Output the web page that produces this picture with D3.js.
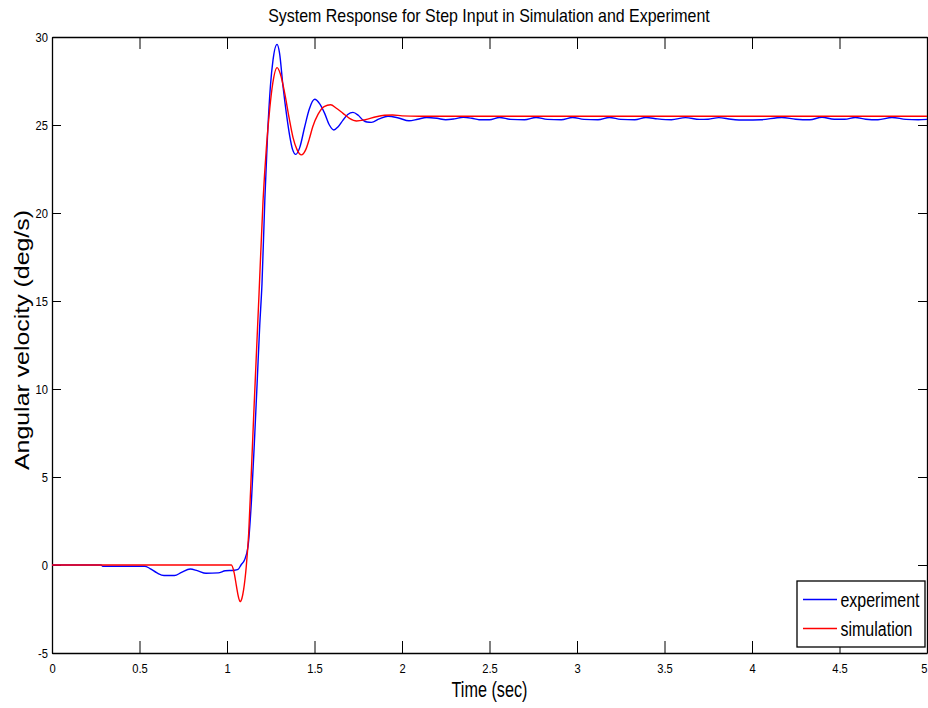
<!DOCTYPE html>
<html>
<head>
<meta charset="utf-8">
<script src="https://cdn.jsdelivr.net/npm/d3@7"></script>
<style>
  html, body { margin: 0; padding: 0; background: #fff; }
  svg { display: block; font-family: "Liberation Sans", Arial, sans-serif; }
</style>
</head>
<body>
<svg id="chart" width="928" height="708"></svg>
<script>
// Step response: simulated model vs. measured rig data
const simTime = [0, 1.0, 1.025, 1.04, 1.054, 1.065, 1.075, 1.085, 1.095, 1.11, 1.124, 1.14, 1.153, 1.168, 1.183, 1.206,
  1.225, 1.244, 1.262, 1.286, 1.305, 1.33, 1.355, 1.377, 1.40, 1.425, 1.45, 1.47, 1.49, 1.52, 1.555, 1.592, 1.625,
  1.663, 1.70, 1.74, 1.79, 1.853, 1.90, 1.946, 2.0, 2.1, 5.0];
const simValue = [0, 0, 0, -0.4, -1.2, -1.8, -2.08, -1.9, -1.4, -0.1, 1.8, 5.5, 8.6, 12.0, 15.4, 20.7,
  23.7, 25.9, 27.4, 28.26, 27.9, 26.8, 25.4, 24.3, 23.6, 23.3, 23.6, 24.2, 24.9, 25.6, 26.05, 26.15, 25.95,
  25.66, 25.38, 25.23, 25.3, 25.47, 25.55, 25.57, 25.52, 25.5, 25.5];

const expTime = [0, 0.28, 0.29, 0.53, 0.56, 0.60, 0.64, 0.70, 0.74, 0.79, 0.83, 0.88, 0.95, 0.99, 1.04, 1.063,
  1.08, 1.10, 1.12, 1.14, 1.159, 1.172, 1.187, 1.20, 1.216, 1.232, 1.248, 1.263, 1.286, 1.30, 1.32, 1.34, 1.358,
  1.375, 1.393, 1.415, 1.444, 1.47, 1.501, 1.53, 1.558, 1.585, 1.611, 1.635, 1.663, 1.69, 1.72, 1.75, 1.777,
  1.80, 1.825, 1.87, 1.92, 1.98, 2.04, 2.09, 2.14, 2.20, 2.25, 2.30, 2.35, 2.40, 2.44, 2.50, 2.557, 2.62,
  2.70, 2.766, 2.83, 2.91, 2.975, 3.04, 3.12, 3.185, 3.25, 3.33, 3.394, 3.46, 3.54, 3.62, 3.70, 3.75, 3.81,
  3.88, 3.96, 4.05, 4.17, 4.25, 4.33, 4.40, 4.47, 4.53, 4.59, 4.65, 4.72, 4.80, 4.88, 4.95, 5.0];
const expValue = [0, 0, -0.07, -0.07, -0.2, -0.45, -0.6, -0.6, -0.42, -0.23, -0.32, -0.47, -0.45, -0.33, -0.3, -0.25,
  0.0, 0.28, 1.04, 3.7, 7.5, 10.3, 13.6, 16.0, 20.7, 24.5, 27.2, 28.7, 29.58, 29.1, 27.2, 25.6, 24.4,
  23.6, 23.33, 23.7, 24.9, 25.9, 26.46, 26.2, 25.66, 25.0, 24.72, 24.9, 25.28, 25.6, 25.72, 25.55, 25.28,
  25.17, 25.15, 25.35, 25.5, 25.4, 25.24, 25.33, 25.43, 25.38, 25.3, 25.35, 25.44, 25.38, 25.30, 25.30, 25.43, 25.32,
  25.30, 25.43, 25.32, 25.30, 25.43, 25.32, 25.30, 25.43, 25.32, 25.30, 25.43, 25.35, 25.30, 25.42, 25.32, 25.33, 25.42,
  25.33, 25.28, 25.30, 25.43, 25.33, 25.30, 25.44, 25.33, 25.33, 25.43, 25.33, 25.30, 25.43, 25.32, 25.30, 25.32];

const xTicks = [0, 0.5, 1, 1.5, 2, 2.5, 3, 3.5, 4, 4.5, 5];
const yTicks = [-5, 0, 5, 10, 15, 20, 25, 30];
const seriesNames = ["experiment", "simulation"];
const seriesColors = ["#0000ff", "#ff0000"];

const titleText = "System Response for Step Input in Simulation and Experiment";
const xLabel = "Time (sec)";
const yLabel = "Angular velocity (deg/s)";

const svg = d3.select("#chart");
const plotLeft = 52, plotRight = 927, plotTop = 37, plotBottom = 653;

const x = d3.scaleLinear().domain([0, 5]).range([plotLeft, plotRight]);
const y = d3.scaleLinear().domain([-5, 30]).range([plotBottom, plotTop]);

// horizontal lettering is condensed: scale each text along x about its own anchor
function squeeze(node, ratio) {
  const ax = +(node.getAttribute("x") || 0);
  const prev = node.getAttribute("transform") || "";
  node.setAttribute("transform", `${prev} translate(${ax},0) scale(${ratio},1) translate(${-ax},0)`);
}
function condense(sel, ratio) {
  sel.each(function () { squeeze(this, ratio); });
}
function fitWidth(sel, width) {
  sel.each(function () {
    const w = this.getComputedTextLength();
    if (w > 0) squeeze(this, width / w);
  });
}

const tickFmt = d => String(d);
const tickFont = 13;

// axes: ticks point inward on all four sides (box style)
const axisBottom = d3.axisBottom(x).tickValues(xTicks).tickFormat(tickFmt).tickSizeInner(-12).tickSizeOuter(0).tickPadding(11);
const axisTop = d3.axisTop(x).tickValues(xTicks).tickFormat("").tickSizeInner(-12).tickSizeOuter(0);
const axisLeft = d3.axisLeft(y).tickValues(yTicks).tickFormat(tickFmt).tickSizeInner(-9).tickSizeOuter(0).tickPadding(4);
const axisRight = d3.axisRight(y).tickValues(yTicks).tickFormat("").tickSizeInner(-9).tickSizeOuter(0);

function styleAxis(g) {
  g.attr("font-family", null).attr("font-size", null);
  g.selectAll(".domain").attr("stroke", "#000").attr("stroke-width", 1.3);
  g.selectAll(".tick line").attr("stroke", "#000").attr("stroke-width", 1);
  g.selectAll("text").attr("font-size", tickFont).attr("fill", "#000").call(condense, 0.86);
}

const gx = svg.append("g").attr("transform", `translate(0,${plotBottom})`).call(axisBottom).call(styleAxis);
// the last label sits on the window edge: keep it inside
gx.selectAll(".tick text").filter(d => d === 5).attr("text-anchor", "end").attr("x", 0);
svg.append("g").attr("transform", `translate(0,${plotTop})`).call(axisTop).call(styleAxis);
svg.append("g").attr("transform", `translate(${plotLeft},0)`).call(axisLeft).call(styleAxis);
svg.append("g").attr("transform", `translate(${plotRight},0)`).call(axisRight).call(styleAxis);

// clip lines to the plotting box
svg.append("clipPath").attr("id", "plot-clip")
  .append("rect").attr("x", plotLeft).attr("y", plotTop)
  .attr("width", plotRight - plotLeft).attr("height", plotBottom - plotTop);

const line = d3.line()
  .x(d => x(d[0]))
  .y(d => y(d[1]))
  .curve(d3.curveMonotoneX);

const expData = expTime.map((t, i) => [t, expValue[i]]);
const simData = simTime.map((t, i) => [t, simValue[i]]);

const plot = svg.append("g").attr("clip-path", "url(#plot-clip)");
plot.append("path").datum(expData)
  .attr("d", line).attr("fill", "none").attr("stroke", seriesColors[0]).attr("stroke-width", 1.4);
plot.append("path").datum(simData)
  .attr("d", line).attr("fill", "none").attr("stroke", seriesColors[1]).attr("stroke-width", 1.4);

// title and axis labels
svg.append("text")
  .attr("x", 489).attr("y", 22).attr("text-anchor", "middle")
  .attr("font-size", 18).attr("fill", "#000").text(titleText)
  .call(fitWidth, 442);

svg.append("text")
  .attr("x", 489.5).attr("y", 697).attr("text-anchor", "middle")
  .attr("font-size", 22).attr("fill", "#000").text(xLabel)
  .call(fitWidth, 76);

svg.append("text")
  .attr("transform", `translate(29,340) rotate(-90)`)
  .attr("text-anchor", "middle")
  .attr("font-size", 20).attr("fill", "#000").text(yLabel)
  .attr("textLength", 260).attr("lengthAdjust", "spacingAndGlyphs");

// legend box
const legend = svg.append("g").attr("transform", "translate(797,581)");
legend.append("rect").attr("width", 128).attr("height", 66)
  .attr("fill", "#fff").attr("stroke", "#000").attr("stroke-width", 1.3);
const legendWidths = [79, 72];
seriesNames.forEach((name, i) => {
  const ly = 18.5 + i * 29;
  legend.append("line").attr("x1", 6).attr("x2", 40).attr("y1", ly).attr("y2", ly)
    .attr("stroke", seriesColors[i]).attr("stroke-width", 1.4);
  legend.append("text")
    .attr("x", 43.5).attr("y", ly + 7.5).attr("font-size", 21).attr("fill", "#000").text(name)
    .call(fitWidth, legendWidths[i]);
});
</script>
</body>
</html>
